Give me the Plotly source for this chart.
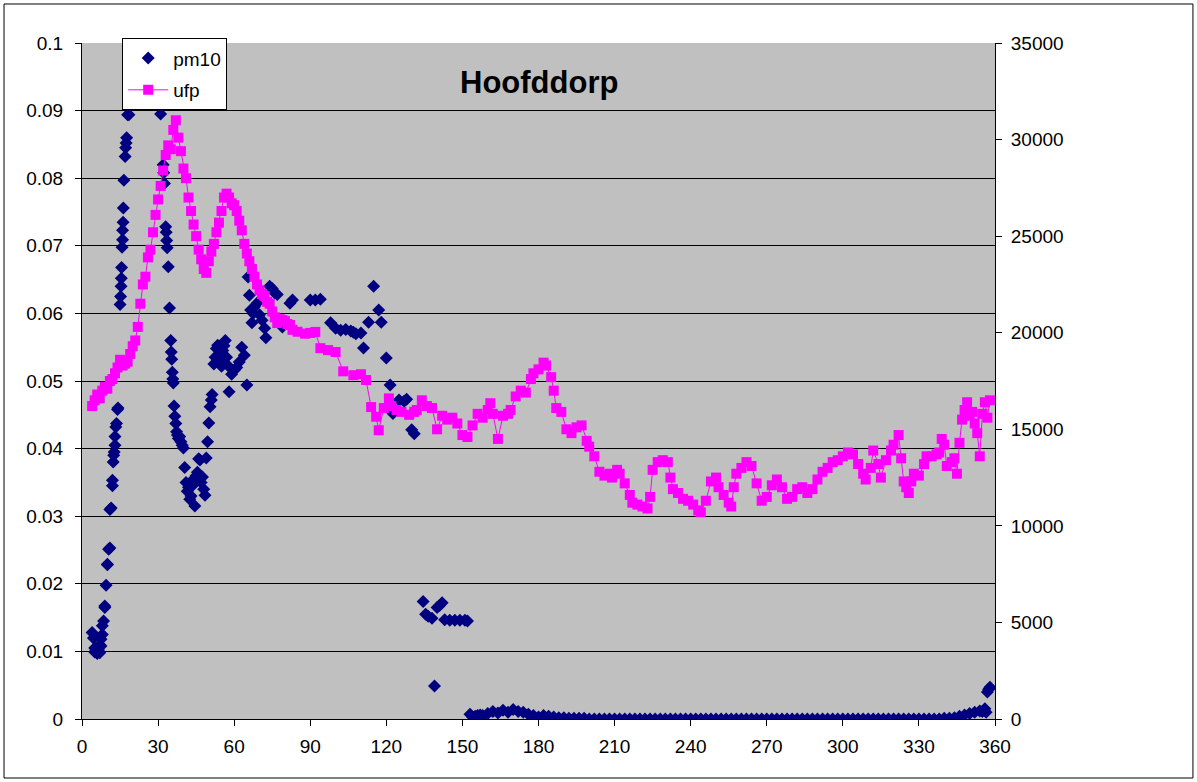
import plotly.graph_objects as go

# ---------------- data ----------------
ufp_x = [4, 5, 6, 7, 8, 9, 10, 11, 12, 13, 14, 15, 16, 17, 18, 19, 20, 21, 22, 23, 24, 25, 26, 27, 28, 29,
         30, 31, 32, 33, 34, 35, 36, 37, 38, 39, 40, 41, 42, 43, 44, 45, 46, 47, 48, 49, 50, 51, 52, 53, 54,
         55, 56, 57, 58, 59, 60, 61, 62, 63, 64, 65, 66, 67, 68, 69, 70, 71, 72, 73, 74, 75, 76, 77, 78, 79,
         80, 81, 82, 83, 85, 88, 90, 92, 94, 97, 100, 103, 107, 110, 112, 114, 116, 117, 119, 121, 122, 124,
         126, 129, 131, 132, 134, 136, 138, 140, 142, 144, 146, 148, 150, 152, 154, 156, 158, 160, 161, 162,
         164, 166, 168, 169, 171, 173, 175, 177, 178, 180, 182, 183, 185, 186, 187, 189, 191, 193, 195, 197,
         199, 200, 202, 204, 206, 208, 209, 211, 212, 214, 216, 217, 219, 221, 223, 224, 225, 227, 229, 231,
         232, 233, 235, 237, 239, 241, 243, 244, 246, 248, 250, 251, 253, 255, 256, 257, 258, 260, 262, 264,
         266, 268, 270, 272, 274, 276, 278, 280, 282, 284, 286, 288, 290, 292, 294, 296, 298, 300, 302, 304,
         306, 308, 309, 311, 312, 314, 315, 317, 319, 320, 322, 323, 324, 325, 326, 327, 328, 330, 332, 333,
         335, 337, 338, 339, 340, 341, 343, 344, 345, 346, 347, 348, 349, 350, 351, 352, 353, 354, 355, 356,
         357, 358]
ufp_y = [16200, 16500, 16800, 16600, 17000, 17200, 17100, 17500, 17600, 17900, 18200, 18600, 18300, 18400,
         18500, 18900, 19300, 19600, 20300, 21500, 22500, 22900, 23900, 24300, 25200, 26100, 26900, 27600,
         28400, 29200, 29700, 29500, 30500, 31000, 30100, 29400, 28500, 28000, 27000, 26300, 25600, 25000,
         24300, 23800, 23300, 23100, 23700, 24200, 24600, 25200, 25700, 26300, 27000, 27200, 27000, 26700,
         26600, 26300, 25800, 25300, 24600, 24100, 23700, 23300, 22900, 22500, 22200, 22000, 21900, 21600,
         21500, 21100, 20800, 20500, 20700, 20650, 20600, 20450, 20400, 20150, 20050, 19950, 19990, 20040,
         19200, 19100, 19000, 18000, 17800, 17850, 17550, 16150, 15650, 14950, 16100, 16600, 16200, 16000,
         15900, 15750, 15900, 16000, 16500, 16200, 16100, 15000, 15700, 15500, 15600, 15300, 14700, 14600,
         15200, 15800, 15600, 16000, 16350, 15800, 14500, 15700, 15800, 16000, 16700, 17000, 16900, 17600,
         17900, 18100, 18450, 18300, 17700, 17000, 16100, 15900, 15000, 14800, 15100, 15200, 14400, 14100,
         13600, 12800, 12600, 12700, 12500, 12900, 12700, 12200, 11600, 11200, 11100, 11000, 10900, 11500,
         12900, 13300, 13400, 13300, 12500, 11900, 11700, 11400, 11300, 11100, 10800, 10700, 11300, 12300,
         12500, 12000, 11600, 11200, 11000, 12000, 12700, 13000, 13300, 13100, 12200, 11300, 11500, 12100,
         12400, 12000, 11400, 11500, 11900, 12000, 11700, 11900, 12400, 12800, 13000, 13300, 13400, 13600,
         13800, 13700, 13200, 12700, 12400, 13000, 13900, 13200, 12500, 13400, 13900, 14200, 14700, 13500,
         12300, 12000, 11700, 12300, 12700, 12600, 13200, 13600, 13600, 13700, 13800, 14500, 14200, 13100,
         13300, 13500, 12700, 14300, 15500, 16000, 16400, 15700, 15900, 15300, 14800, 13600, 15800, 16400,
         15600, 16500]

pm10_x = [4, 4.5, 5, 5, 5.5, 6, 6.5, 7, 7, 7.5, 7.5, 8, 8, 8.5, 9, 9, 9.5, 10, 10, 10.5, 11, 11, 11.5, 12,
          12, 12.3, 12.5, 12.7, 13, 13, 13.3, 13.6, 14, 14.2, 15, 15.2, 15.4, 15.5, 15.6, 15.8, 16, 16, 16.2,
          16.3, 16.5, 17, 17.2, 17.4, 17.6, 18, 18.5,
          31, 32, 32.2, 32.5, 33, 33.2, 33.4, 33.6, 34, 34.5, 35, 35.2, 35.4, 35.6, 35.8, 36, 36.3, 36.6, 37,
          37.3, 37.6, 38, 38.5, 39, 39.5, 40, 40.5, 41, 41.5, 42, 42.5, 43, 43.5, 44, 44.5, 45, 45.5, 46, 46.5,
          47, 47.5, 48, 48.5, 49, 49.5, 50, 50.5, 51, 51.3, 52, 52.5, 53, 53.5, 54, 54.5, 55, 55.5, 56, 56.5,
          57, 57.5, 58, 59, 60, 61, 62, 63, 64, 65, 65.5, 66, 66.5, 67, 67.5, 68, 69, 70, 71, 72, 72.5, 74,
          75, 76, 77, 79, 80, 82, 83, 90, 92, 94, 98, 100, 102, 104, 106, 107, 108, 110, 111, 113, 115, 117,
          118, 120, 121.5, 122.6, 125, 127, 128, 130, 131,
          134.5, 135.5, 136.5, 138, 139, 140, 141, 142, 143, 145, 147, 149, 151, 152,
          153, 154, 155, 156, 157, 158, 160, 162, 164, 166, 168, 170, 172, 174, 176, 178, 180, 182, 184, 186,
          188, 190, 192, 194, 196, 198, 200, 202, 204, 206, 208, 210, 212, 214, 216, 218, 220, 222, 224, 226,
          228, 230, 232, 234, 236, 238, 240, 242, 244, 246, 248, 250, 252, 254, 256, 258, 260, 262, 264, 266,
          268, 270, 272, 274, 276, 278, 280, 282, 284, 286, 288, 290, 292, 294, 296, 298, 300, 302, 304, 306,
          308, 310, 312, 314, 316, 318, 320, 322, 324, 326, 328, 330, 332, 334, 336, 338, 340, 342, 344, 346,
          348, 350, 352, 354, 355, 356, 356.5, 357, 357.5, 358]
pm10_y = [0.0128, 0.0120, 0.0105, 0.0099, 0.0101, 0.0097, 0.0102, 0.0110, 0.0098, 0.0118, 0.0108, 0.0125,
          0.0138, 0.0145, 0.0165, 0.0167, 0.0198, 0.0228, 0.0229, 0.0251, 0.0253, 0.0310, 0.0312, 0.0345,
          0.0353, 0.0380, 0.0390, 0.0395, 0.0405, 0.0418, 0.0432, 0.0437, 0.0458, 0.0460, 0.0613, 0.0625,
          0.0640, 0.0652, 0.0668, 0.0698, 0.0709, 0.0723, 0.0735, 0.0756, 0.0797, 0.0832, 0.0845, 0.0852,
          0.0860, 0.0894, 0.0894,
          0.0895, 0.0820, 0.0808, 0.0792, 0.0728, 0.0720, 0.0708, 0.0697, 0.0669, 0.0608, 0.0560, 0.0543,
          0.0532, 0.0513, 0.0503, 0.0497, 0.0463, 0.0448, 0.0437, 0.0425, 0.0420, 0.0415, 0.0418, 0.0410,
          0.0405, 0.0401, 0.0372, 0.0350, 0.0337, 0.0343, 0.0325, 0.0330, 0.0345, 0.0355, 0.0315, 0.0360,
          0.0365, 0.0385, 0.0383, 0.0350, 0.0358, 0.0340, 0.0331, 0.0386, 0.0410, 0.0438, 0.0462, 0.0472,
          0.0480, 0.0525, 0.0535, 0.0548, 0.0553, 0.0540, 0.0530, 0.0522, 0.0545, 0.0552, 0.0560, 0.0535,
          0.0523, 0.0484, 0.0510, 0.0516, 0.0520, 0.0528, 0.0550, 0.0538, 0.0494, 0.0654, 0.0627, 0.0605,
          0.0586, 0.0600, 0.0610, 0.0615, 0.0598, 0.0590, 0.0578, 0.0564, 0.0640, 0.0637, 0.0630, 0.0628,
          0.0580, 0.0585, 0.0615, 0.0620, 0.0620, 0.0620, 0.0621, 0.0586, 0.0578, 0.0575, 0.0576, 0.0574,
          0.0572, 0.0570, 0.0571, 0.0549, 0.0587, 0.0640, 0.0605, 0.0587, 0.0534, 0.0494, 0.0452, 0.0472,
          0.0470, 0.0473, 0.0428, 0.0422,
          0.0174, 0.0155, 0.0152, 0.0149, 0.0049, 0.0165, 0.0168, 0.0172, 0.0147, 0.0146, 0.0146, 0.0146,
          0.0146, 0.0145,
          0.0007, 0.0003, 0.0004, 0.0005, 0.0006, 0.0005, 0.0008, 0.0011, 0.0009, 0.0013, 0.0010, 0.0014,
          0.0011, 0.0010, 0.0007, 0.0005, 0.0003, 0.0005, 0.0004, 0.0003, 0.0002, 0.0002,
          0.0001, 0.0001, 0.0001, 0.0001, 0.0, 0.0, 0.0, 0.0, 0.0, 0.0, 0.0, 0.0, 0.0, 0.0, 0.0, 0.0, 0.0,
          0.0, 0.0, 0.0, 0.0, 0.0, 0.0, 0.0, 0.0, 0.0, 0.0, 0.0, 0.0, 0.0, 0.0, 0.0, 0.0, 0.0, 0.0, 0.0,
          0.0, 0.0, 0.0, 0.0, 0.0, 0.0, 0.0, 0.0, 0.0, 0.0, 0.0, 0.0, 0.0, 0.0, 0.0, 0.0, 0.0, 0.0, 0.0,
          0.0, 0.0, 0.0, 0.0, 0.0, 0.0, 0.0, 0.0, 0.0, 0.0, 0.0, 0.0, 0.0, 0.0, 0.0, 0.0, 0.0, 0.0, 0.0,
          0.0001, 0.0001,
          0.0002, 0.0004, 0.0006, 0.0008, 0.0010, 0.0012, 0.0011, 0.0015, 0.0010, 0.0040, 0.0044, 0.0047,
          0.0050, 0.0049]

x_ticks = [0, 30, 60, 90, 120, 150, 180, 210, 240, 270, 300, 330, 360]
left_ticks = [0, 0.01, 0.02, 0.03, 0.04, 0.05, 0.06, 0.07, 0.08, 0.09, 0.1]
left_labels = ["0", "0.01", "0.02", "0.03", "0.04", "0.05", "0.06", "0.07", "0.08", "0.09", "0.1"]
right_ticks = [0, 5000, 10000, 15000, 20000, 25000, 30000, 35000]
right_labels = ["0", "5000", "10000", "15000", "20000", "25000", "30000", "35000"]

# ---------------- figure ----------------
FONT = "Liberation Sans, Arial, sans-serif"
fig = go.Figure()

fig.add_trace(go.Scatter(
    x=pm10_x, y=pm10_y, name="pm10", mode="markers", legendgroup="a",
    marker=dict(symbol="diamond", size=10, color="#000080", line=dict(width=0)),
    yaxis="y"))

fig.add_trace(go.Scatter(
    x=ufp_x, y=ufp_y, name="ufp", mode="lines+markers", legendgroup="b",
    line=dict(color="#FF00FF", width=1),
    marker=dict(symbol="square", size=10, color="#FF00FF", line=dict(width=0)),
    yaxis="y2"))

fig.update_layout(
    width=1197, height=782,
    margin=dict(l=82, r=202, t=43, b=63),
    paper_bgcolor="white",
    plot_bgcolor="#C0C0C0",
    font=dict(family=FONT, size=19, color="black"),
    showlegend=True,
    legend=dict(x=0.044, y=1.007, xanchor="left", yanchor="top",
                bgcolor="white", bordercolor="black", borderwidth=1,
                font=dict(family=FONT, size=19), tracegroupgap=4,
                traceorder="grouped", itemwidth=40),
    xaxis=dict(range=[0, 360], tickvals=x_ticks, ticks="outside", ticklen=6,
               tickcolor="black", showline=True, linecolor="black", linewidth=1,
               showgrid=False, zeroline=False, tickfont=dict(size=19),
               ticklabelstandoff=4),
    yaxis=dict(range=[0, 0.1], tickvals=left_ticks, ticktext=left_labels,
               ticks="outside", ticklen=6, tickcolor="black",
               showline=True, linecolor="black", linewidth=1,
               showgrid=True, gridcolor="black", gridwidth=1, zeroline=False,
               tickfont=dict(size=19), ticklabelstandoff=8),
    yaxis2=dict(range=[0, 35000], tickvals=right_ticks, ticktext=right_labels,
                overlaying="y", side="right",
                ticks="outside", ticklen=6, tickcolor="black",
                showline=True, linecolor="black", linewidth=1,
                showgrid=False, zeroline=False, tickfont=dict(size=19),
                ticklabelstandoff=5),
    annotations=[dict(text="<b>Hoofddorp</b>", x=0.501, y=0.942, xref="paper", yref="paper",
                      xanchor="center", yanchor="middle",
                      showarrow=False, font=dict(family=FONT, size=31, color="black"))],
    shapes=[dict(type="rect", xref="paper", yref="paper",
                 x0=-0.0854, x1=1.2168, y0=-0.0873, y1=1.0577,
                 line=dict(color="black", width=1), fillcolor="rgba(0,0,0,0)", layer="below")],
)

fig.write_html("out.html", post_script='document.body.style.margin="0";',
               config={"displayModeBar": False})
